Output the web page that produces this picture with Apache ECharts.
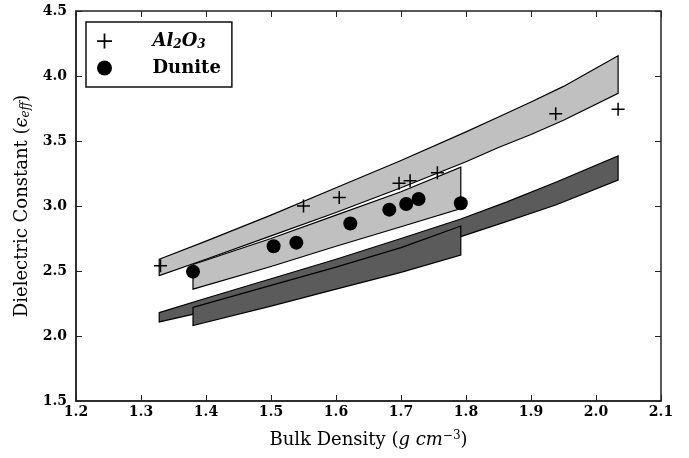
<!DOCTYPE html>
<html lang="en">
<head>
<meta charset="utf-8">
<title>Dielectric Constant vs Bulk Density</title>
<script src="https://cdn.jsdelivr.net/npm/echarts@6/dist/echarts.min.js"></script>
<style>
  html, body { margin: 0; padding: 0; background: #fff; }
  #chart { width: 689px; height: 458px; }
</style>
</head>
<body>
<div id="chart"></div>
<script>
// measured points
var al2o3X = [1.33, 1.55, 1.605, 1.697, 1.714, 1.756, 1.938, 2.034];
var al2o3Y = [2.54, 3.00, 3.065, 3.175, 3.195, 3.255, 3.71, 3.745];
var duniteX = [1.38, 1.504, 1.539, 1.622, 1.682, 1.708, 1.727, 1.792];
var duniteY = [2.495, 2.69, 2.718, 2.865, 2.972, 3.015, 3.054, 3.021];

// model bands (light = upper model, dark = lower model)
var alLightX = [1.328, 1.4, 1.5, 1.6, 1.7, 1.8, 1.85, 1.9, 1.95, 2.034];
var alLightUp = [2.59, 2.73, 2.93, 3.14, 3.35, 3.57, 3.685, 3.80, 3.92, 4.156];
var alLightLo = [2.465, 2.59, 2.77, 2.95, 3.14, 3.34, 3.45, 3.55, 3.66, 3.867];

var duLightX = [1.38, 1.5, 1.6, 1.7, 1.792];
var duLightUp = [2.55, 2.75, 2.93, 3.11, 3.298];
var duLightLo = [2.36, 2.535, 2.69, 2.84, 2.98];

var alDarkX = [1.328, 1.4, 1.5, 1.6, 1.7, 1.792, 1.862, 1.939, 2.034];
var alDarkUp = [2.18, 2.29, 2.44, 2.59, 2.75, 2.90, 3.03, 3.185, 3.385];
var alDarkLo = [2.108, 2.19, 2.31, 2.45, 2.60, 2.764, 2.88, 3.01, 3.20];

var duDarkX = [1.38, 1.5, 1.6, 1.7, 1.792];
var duDarkUp = [2.22, 2.39, 2.53, 2.68, 2.846];
var duDarkLo = [2.08, 2.23, 2.36, 2.49, 2.623];

var plusPath = 'path://M5.3,0 H6.7 V5.3 H12 V6.7 H6.7 V12 H5.3 V6.7 H0 V5.3 H5.3 Z';
var serif = 'DejaVu Serif';

function band(xs, up, lo, color) {
    return {
        type: 'custom',
        silent: true,
        data: xs.map(function (x, i) { return [x, up[i], lo[i]]; }),
        encode: { x: 0, y: [1, 2] },
        renderItem: function (params, api) {
            if (params.dataIndex !== 0) return null;
            var pts = [];
            for (var i = 0; i < xs.length; i++) pts.push(api.coord([xs[i], up[i]]));
            for (var j = xs.length - 1; j >= 0; j--) pts.push(api.coord([xs[j], lo[j]]));
            return {
                type: 'polygon',
                shape: { points: pts },
                style: { fill: color, stroke: '#000', lineWidth: 1.2 }
            };
        }
    };
}

function pairs(xs, ys) {
    return xs.map(function (x, i) { return [x, ys[i]]; });
}

var tickStyle = { show: true, inside: true, length: 6, lineStyle: { color: '#222', width: 1 } };

var chart = echarts.init(document.getElementById('chart'));
chart.setOption({
    animation: false,
    backgroundColor: '#fff',
    grid: { left: 76, right: 28, top: 11, bottom: 57, show: true, borderColor: '#222', borderWidth: 1.5 },
    legend: {
        orient: 'vertical',
        left: 86,
        top: 22,
        data: ['Al2O3', 'Dunite'],
        backgroundColor: '#fff',
        borderColor: '#111',
        borderWidth: 1.5,
        borderRadius: 0,
        padding: [10, 11, 10, 11],
        itemWidth: 36,
        itemHeight: 15,
        itemGap: 8,
        formatter: function (name) {
            return name === 'Al2O3' ? '{i|Al}{s|2}{i|O}{s|3}' : '{b|Dunite}';
        },
        textStyle: {
            padding: [0, 0, 0, 25],
            rich: {
                i: { fontFamily: serif, fontStyle: 'italic', fontWeight: 'bold', fontSize: 18, color: '#000' },
                s: { fontFamily: serif, fontStyle: 'italic', fontWeight: 'bold', fontSize: 12, color: '#000', verticalAlign: 'bottom', padding: [8, 0, 0, 0] },
                b: { fontFamily: serif, fontWeight: 'bold', fontSize: 18, color: '#000' }
            }
        }
    },
    xAxis: [{
        type: 'value',
        min: 1.2,
        max: 2.1,
        interval: 0.1,
        axisLine: { show: true, onZero: false, lineStyle: { color: '#222', width: 1.5 } },
        axisTick: tickStyle,
        splitLine: { show: false },
        axisLabel: {
            margin: 4,
            fontFamily: serif, fontWeight: 'bold', fontSize: 14, color: '#000',
            formatter: function (v) { return v.toFixed(1); }
        },
        name: '{n|Bulk Density (}{i|g cm}{s|−3}{n|)}',
        nameLocation: 'middle',
        nameGap: 29,
        nameTextStyle: {
            rich: {
                n: { fontFamily: serif, fontSize: 18, color: '#000' },
                i: { fontFamily: serif, fontStyle: 'italic', fontSize: 18, color: '#000' },
                s: { fontFamily: serif, fontSize: 12, color: '#000', verticalAlign: 'top', padding: [0, 0, 9, 0] }
            }
        }
    }, {
        type: 'value',
        position: 'top',
        min: 1.2,
        max: 2.1,
        interval: 0.1,
        axisLine: { show: false },
        axisTick: tickStyle,
        axisLabel: { show: false },
        splitLine: { show: false }
    }],
    yAxis: [{
        type: 'value',
        min: 1.5,
        max: 4.5,
        interval: 0.5,
        axisLine: { show: true, onZero: false, lineStyle: { color: '#222', width: 1.5 } },
        axisTick: tickStyle,
        splitLine: { show: false },
        axisLabel: {
            margin: 9,
            fontFamily: serif, fontWeight: 'bold', fontSize: 14, color: '#000',
            formatter: function (v) { return v.toFixed(1); }
        },
        name: '{n|Dielectric Constant (}{i|ϵ}{s|eff}{n|)}',
        nameLocation: 'middle',
        nameGap: 41,
        nameTextStyle: {
            rich: {
                n: { fontFamily: serif, fontSize: 18, color: '#000' },
                i: { fontFamily: serif, fontStyle: 'italic', fontSize: 18, color: '#000' },
                s: { fontFamily: serif, fontStyle: 'italic', fontSize: 12, color: '#000', verticalAlign: 'bottom', padding: [7, 0, 0, 0] }
            }
        }
    }, {
        type: 'value',
        position: 'right',
        min: 1.5,
        max: 4.5,
        interval: 0.5,
        axisLine: { show: false },
        axisTick: tickStyle,
        axisLabel: { show: false },
        splitLine: { show: false }
    }],
    series: [
        band(alLightX, alLightUp, alLightLo, '#c0c0c0'),
        band(duLightX, duLightUp, duLightLo, '#c0c0c0'),
        band(alDarkX, alDarkUp, alDarkLo, '#5b5b5b'),
        band(duDarkX, duDarkUp, duDarkLo, '#5b5b5b'),
        {
            name: 'Al2O3',
            type: 'scatter',
            symbol: plusPath,
            symbolSize: 13,
            itemStyle: { color: '#000', opacity: 1 },
            data: pairs(al2o3X, al2o3Y),
            z: 5
        },
        {
            name: 'Dunite',
            type: 'scatter',
            symbol: 'circle',
            symbolSize: 14,
            itemStyle: { color: '#000', opacity: 1 },
            data: pairs(duniteX, duniteY),
            z: 5
        }
    ]
});
</script>
</body>
</html>
